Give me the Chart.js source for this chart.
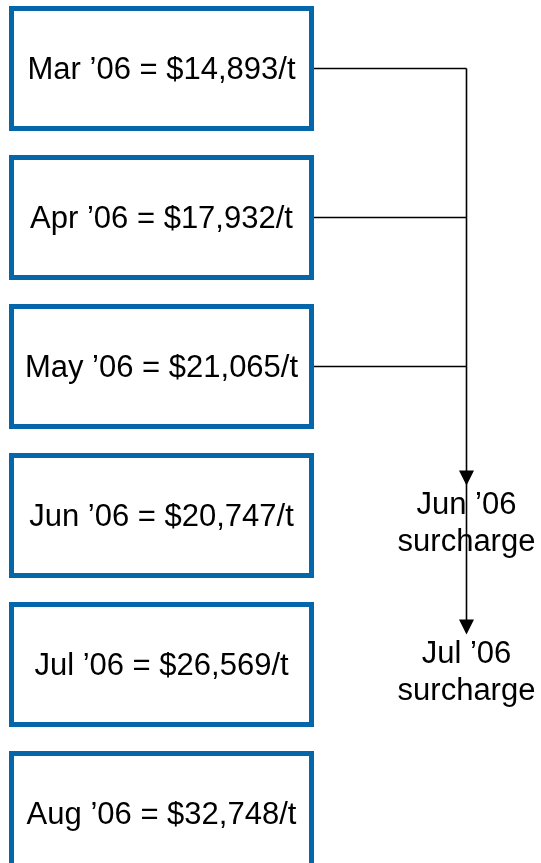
<!DOCTYPE html>
<html>
<head>
<meta charset="utf-8">
<script src="https://cdn.jsdelivr.net/npm/chart.js@4/dist/chart.umd.min.js"></script>
<style>
  html, body { margin: 0; padding: 0; background: #fff; overflow: hidden; }
  #wrap { position: absolute; left: 0; top: -6px; width: 541px; height: 894px; }
</style>
</head>
<body>
<div id="wrap"><canvas id="flow"></canvas></div>
<script>
// monthly prices, $/t
var months = ['Mar', 'Apr', 'May', 'Jun', 'Jul', 'Aug'];
var prices = [14893, 17932, 21065, 20747, 26569, 32748];
var year = '\u201906';

// which months feed the surcharge, and which surcharges are shown
var sourceMonths = ['Mar', 'Apr', 'May'];
var surchargeMonths = ['Jun', 'Jul'];

var FONT = "31px 'Liberation Sans', Arial, sans-serif";
var BLUE = '#0567a9';

// boxes span x = 0..1, connector runs at x = 1.5 (same scale)
var connector = {
    id: 'connector',
    afterDatasetsDraw: function (chart) {
        var ctx = chart.ctx;
        var xs = chart.scales.x, ys = chart.scales.y;
        var boxRight = xs.getPixelForValue(1);
        var lineX = xs.getPixelForValue(1.5);
        var boxCenterX = xs.getPixelForValue(0.5);

        ctx.save();

        // box labels
        ctx.fillStyle = '#000';
        ctx.font = FONT;
        ctx.textAlign = 'center';
        ctx.textBaseline = 'middle';
        months.forEach(function (m, i) {
            var txt = m + ' ' + year + ' = $' + prices[i].toLocaleString('en-US') + '/t';
            ctx.fillText(txt, boxCenterX, ys.getPixelForValue(i) + 2);
        });

        // surcharge labels
        var tips = [];
        surchargeMonths.forEach(function (m) {
            var cy = ys.getPixelForValue(months.indexOf(m)) + 8;
            ctx.fillText(m + ' ' + year, lineX, cy - 18);
            ctx.fillText('surcharge', lineX, cy + 19);
            tips.push(cy - 38);
        });

        // horizontal feeders
        ctx.strokeStyle = '#000';
        ctx.lineWidth = 1.6;
        sourceMonths.forEach(function (m) {
            var y = ys.getPixelForValue(months.indexOf(m));
            ctx.beginPath();
            ctx.moveTo(boxRight, y);
            ctx.lineTo(lineX, y);
            ctx.stroke();
        });

        // vertical line
        var top = ys.getPixelForValue(months.indexOf(sourceMonths[0]));
        var bottom = tips[tips.length - 1];
        ctx.beginPath();
        ctx.moveTo(lineX, top);
        ctx.lineTo(lineX, bottom - 14);
        ctx.stroke();

        // arrow heads
        ctx.fillStyle = '#000';
        tips.forEach(function (t) {
            ctx.beginPath();
            ctx.moveTo(lineX, t);
            ctx.lineTo(lineX - 7.5, t - 15);
            ctx.lineTo(lineX + 7.5, t - 15);
            ctx.closePath();
            ctx.fill();
        });

        ctx.restore();
    }
};

new Chart(document.getElementById('flow'), {
    type: 'bar',
    data: {
        labels: months,
        datasets: [{
            data: months.map(function () { return [0, 1]; }),
            backgroundColor: '#fff',
            borderColor: BLUE,
            borderWidth: 5,
            borderSkipped: false,
            barPercentage: 0.84,
            categoryPercentage: 1
        }]
    },
    options: {
        indexAxis: 'y',
        responsive: true,
        maintainAspectRatio: false,
        animation: false,
        layout: { padding: { left: 9, right: 227, top: 0, bottom: 0 } },
        scales: {
            x: { type: 'linear', min: 0, max: 1, display: false },
            y: { display: false, offset: true }
        },
        plugins: {
            legend: { display: false },
            tooltip: { enabled: false }
        }
    },
    plugins: [connector]
});
</script>
</body>
</html>
